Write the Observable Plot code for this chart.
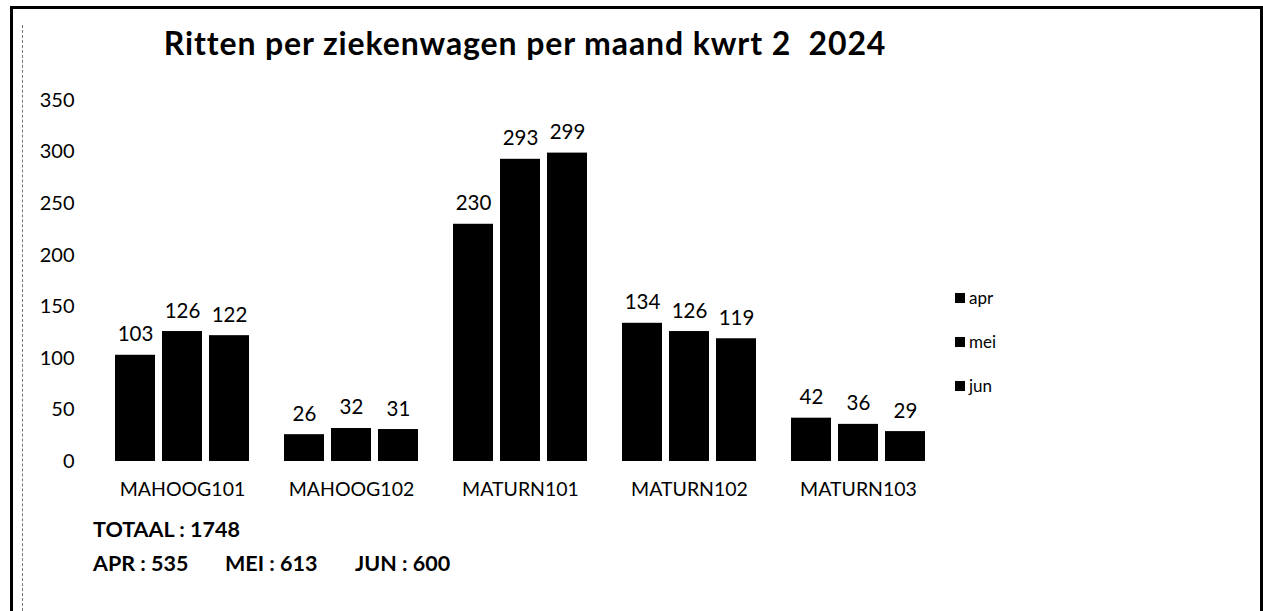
<!DOCTYPE html>
<html>
<head>
<meta charset="utf-8">
<script src="https://cdn.jsdelivr.net/npm/d3@7"></script>
<script src="https://cdn.jsdelivr.net/npm/@observablehq/plot@0.6"></script>
<style>
  html, body { margin: 0; padding: 0; background: #fff; }
  #wrap { position: relative; width: 1263px; height: 611px; overflow: hidden; font-family: Lato, "Open Sans", sans-serif; color: #000; }
  #chart { position: absolute; left: 0; top: 0; }
  .title { position: absolute; left: 160px; width: 730px; top: 23px; text-align: center; font-weight: 700; font-size: 32px; letter-spacing: 0.9px; white-space: pre; }
  .leg { position: absolute; left: 955px; font-size: 17px; display: flex; align-items: center; }
  .leg span.sw { display: inline-block; width: 10px; height: 10px; background: #000; margin-right: 4px; }
  .foot { position: absolute; font-weight: 700; font-size: 21.5px; white-space: pre; }
  .bTop { position: absolute; left: 10px; top: 6px; width: 1253px; height: 3px; background: #000; }
  .bLeft { position: absolute; left: 10px; top: 6px; width: 3px; height: 605px; background: #000; }
  .bRight { position: absolute; left: 1260px; top: 6px; width: 3px; height: 605px; background: #000; }
  .bDash { position: absolute; left: 22px; top: 25px; width: 0; height: 586px; border-left: 1px dashed #777; }
</style>
</head>
<body>
<div id="wrap"></div>
<script>
const categories = ["MAHOOG101", "MAHOOG102", "MATURN101", "MATURN102", "MATURN103"];
const months = ["apr", "mei", "jun"];
const apr = [103, 26, 230, 134, 42];
const mei = [126, 32, 293, 126, 36];
const jun = [122, 31, 299, 119, 29];
const yTicks = [0, 50, 100, 150, 200, 250, 300, 350];
const titleText = "Ritten per ziekenwagen per maand kwrt 2  2024";
const totalLabel = "TOTAAL";
const monthLabels = ["APR", "MEI", "JUN"];

const series = [apr, mei, jun];
const data = [];
categories.forEach((c, i) => {
  months.forEach((m, j) => data.push({cat: c, month: m, value: series[j][i]}));
});

const chart = Plot.plot({
  width: 1263,
  height: 611,
  marginLeft: 97,
  marginRight: 321,
  marginTop: 100,
  marginBottom: 150,
  style: {fontFamily: "Lato, 'Open Sans', sans-serif", color: "#000", background: "transparent"},
  fx: {domain: categories, paddingInner: 0.21, paddingOuter: 0.105, label: null},
  x: {domain: months, paddingInner: 0.15, paddingOuter: 0, axis: null},
  y: {domain: [0, 350], label: null},
  marks: [
    Plot.axisY({ticks: yTicks, tickSize: 0, tickPadding: 41, fontSize: 20, label: null}),
    Plot.axisFx({anchor: "bottom", tickSize: 0, tickPadding: 21, fontSize: 19.5, label: null}),
    Plot.barY(data, {fx: "cat", x: "month", y: "value", fill: "#000"}),
    Plot.text(data, {fx: "cat", x: "month", y: "value", text: d => String(d.value), lineAnchor: "bottom", dy: -14, fontSize: 20.5, fill: "#000"})
  ]
});
chart.id = "chart";

const wrap = document.getElementById("wrap");
wrap.appendChild(chart);

function add(cls, html, style) {
  const d = document.createElement("div");
  d.className = cls;
  if (html != null) d.innerHTML = html;
  if (style) Object.assign(d.style, style);
  wrap.appendChild(d);
  return d;
}
add("bTop"); add("bLeft"); add("bRight"); add("bDash");
const t = add("title"); t.textContent = titleText;

months.forEach((m, j) => {
  const l = add("leg", null, {top: (287 + j * 44) + "px"});
  l.innerHTML = '<span class="sw"></span>';
  l.appendChild(document.createTextNode(m));
});

const sums = series.map(s => d3.sum(s));
const total = d3.sum(sums);
add("foot", null, {left: "93px", top: "516px"}).textContent = totalLabel + " : " + total;
const footX = [93, 225, 355];
monthLabels.forEach((m, j) => {
  add("foot", null, {left: footX[j] + "px", top: "550px"}).textContent = m + " : " + sums[j];
});
</script>
</body>
</html>
